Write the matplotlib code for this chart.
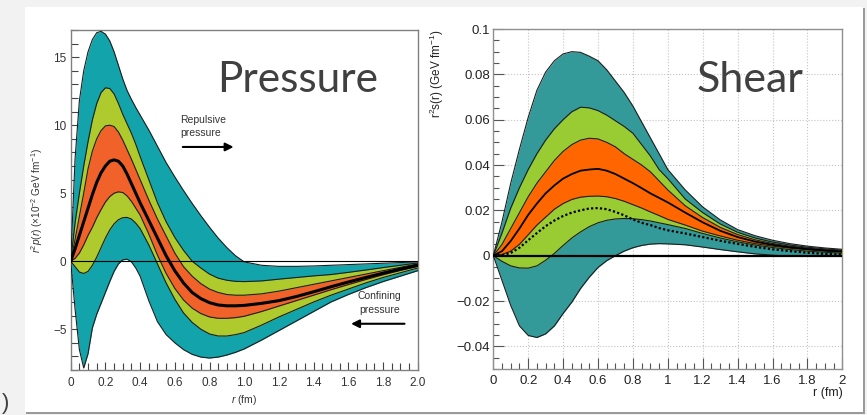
import matplotlib.pyplot as plt
from matplotlib.patches import Rectangle
from matplotlib.ticker import MultipleLocator, FixedLocator

plt.rcParams['font.family'] = ['Liberation Sans', 'DejaVu Sans']
plt.rcParams['mathtext.fontset'] = 'custom'
plt.rcParams['mathtext.rm'] = 'Liberation Sans'
plt.rcParams['mathtext.it'] = 'Liberation Sans:italic'

# ---- pressure panel: r^2 p(r) in units of 1e-2 GeV/fm ----
r_p = [0, .025, .05, .075, .1, .125, .15, .175, .2, .225, .25, .275, .3, .325, .35, .375, .4,
       .45, .5, .55, .6, .65, .7, .75, .8, .85, .9, .95, 1.0,
       1.1, 1.2, 1.3, 1.4, 1.5, 1.6, 1.7, 1.8, 1.9, 2.0]
p_teal_hi = [0, 7.5, 11.8, 14.0, 15.4, 16.3, 16.8, 16.9, 16.7, 16.2, 15.4, 14.4, 13.4, 12.55, 11.9, 11.3, 10.75,
             9.65, 8.45, 7.25, 6.2, 5.2, 4.25, 3.35, 2.5, 1.7, 1.0, 0.4, -0.05,
             -0.3, -0.38, -0.38, -0.35, -0.3, -0.25, -0.2, -0.15, -0.1, -0.05]
p_green_hi = [0, 2.8, 5.0, 7.0, 8.8, 10.4, 11.6, 12.4, 12.75, 12.7, 12.3, 11.6, 10.8, 10.1, 9.4, 8.6, 7.7,
              6.0, 4.3, 2.9, 1.75, 0.8, 0.0, -0.5, -0.95, -1.25, -1.4, -1.48, -1.5,
              -1.45, -1.32, -1.2, -1.08, -0.98, -0.82, -0.65, -0.47, -0.3, -0.13]
p_orange_hi = [0, 1.6, 3.3, 5.0, 6.8, 8.1, 9.0, 9.6, 9.95, 10.0, 9.9, 9.5, 8.9, 8.2, 7.5, 6.75, 6.0,
               4.5, 3.1, 1.85, 0.6, -0.4, -1.1, -1.65, -2.05, -2.3, -2.45, -2.5, -2.5,
               -2.4, -2.2, -1.95, -1.7, -1.45, -1.2, -0.95, -0.7, -0.45, -0.2]
p_central = [0, 0.9, 1.9, 2.9, 3.9, 4.9, 5.8, 6.5, 7.0, 7.35, 7.45, 7.35, 7.0, 6.4, 5.7, 5.0, 4.3,
             3.0, 1.7, 0.4, -0.7, -1.6, -2.3, -2.75, -3.05, -3.22, -3.28, -3.28, -3.25,
             -3.1, -2.9, -2.6, -2.25, -1.88, -1.53, -1.2, -0.88, -0.58, -0.3]
p_orange_lo = [0, 0.2, 0.6, 1.2, 1.9, 2.5, 3.2, 3.8, 4.35, 4.75, 5.0, 5.1, 5.05, 4.8, 4.4, 3.9, 3.4,
               2.0, 0.45, -0.9, -2.0, -2.85, -3.45, -3.85, -4.1, -4.2, -4.2, -4.15, -4.05,
               -3.7, -3.3, -2.9, -2.5, -2.1, -1.72, -1.35, -1.0, -0.68, -0.38]
p_green_lo = [0, -0.4, -0.8, -0.9, -0.75, -0.3, 0.3, 1.0, 1.7, 2.3, 2.75, 3.05, 3.2, 3.22, 3.1, 2.8, 2.4,
              1.2, -0.2, -1.6, -2.8, -3.8, -4.5, -5.0, -5.35, -5.5, -5.5, -5.4, -5.25,
              -4.7, -4.1, -3.55, -3.0, -2.5, -2.05, -1.6, -1.2, -0.85, -0.5]
p_teal_lo = [0, -3.5, -6.5, -7.85, -6.8, -4.9, -3.9, -3.1, -2.3, -1.5, -0.75, -0.2, 0.1, 0.15, -0.05, -0.5, -1.1,
             -2.9, -4.45, -5.4, -6.0, -6.5, -6.85, -7.05, -7.12, -7.05, -6.9, -6.7, -6.45,
             -5.8, -5.1, -4.4, -3.7, -3.0, -2.45, -1.95, -1.5, -1.1, -0.7]

p_xticks = [0, 0.2, 0.4, 0.6, 0.8, 1.0, 1.2, 1.4, 1.6, 1.8, 2.0]
p_xticklabels = ['0', '0.2', '0.4', '0.6', '0.8', '1.0', '1.2', '1.4', '1.6', '1.8', '2.0']
p_yticks = [-5, 0, 5, 10, 15]
p_yticklabels = ['\u22125', '0', '5', '10', '15']

# ---- shear panel: r^2 s(r) in GeV/fm ----
r_s = [0, .05, .1, .15, .2, .25, .3, .35, .4, .45, .5, .55, .6, .65, .7, .75, .8, .85, .9, .95, 1.0,
       1.1, 1.2, 1.3, 1.4, 1.5, 1.6, 1.7, 1.8, 1.9, 2.0]
s_teal_hi = [0, 0.015, 0.032, 0.047, 0.061, 0.073, 0.081, 0.086, 0.089, 0.090,
             0.0897, 0.088, 0.086, 0.082, 0.077, 0.072, 0.066, 0.059, 0.052, 0.045, 0.038,
             0.029, 0.0215, 0.0158, 0.0115, 0.0088, 0.0068, 0.0053, 0.0042, 0.0034, 0.0028]
s_green_hi = [0, 0.010, 0.021, 0.030, 0.038, 0.045, 0.051, 0.056, 0.060, 0.0635,
              0.0655, 0.0652, 0.064, 0.062, 0.0595, 0.057, 0.054, 0.049, 0.044, 0.038, 0.034,
              0.025, 0.019, 0.014, 0.0103, 0.0078, 0.006, 0.0047, 0.0037, 0.003, 0.0024]
s_orange_hi = [0, 0.005, 0.012, 0.019, 0.026, 0.032, 0.037, 0.042, 0.046, 0.049,
               0.051, 0.0518, 0.0515, 0.050, 0.048, 0.045, 0.0425, 0.040, 0.037, 0.033, 0.029,
               0.022, 0.0168, 0.0125, 0.0093, 0.007, 0.0054, 0.0042, 0.0033, 0.0026, 0.0021]
s_central = [0, 0.002, 0.0065, 0.012, 0.018, 0.023, 0.0275, 0.031, 0.034, 0.036,
             0.0375, 0.038, 0.0383, 0.0375, 0.036, 0.034, 0.032, 0.0298, 0.0275, 0.0255, 0.0235,
             0.019, 0.0147, 0.011, 0.0082, 0.0062, 0.0048, 0.0037, 0.0029, 0.0023, 0.0018]
s_orange_lo = [0, 0.0005, 0.002, 0.005, 0.0092, 0.0135, 0.017, 0.0205, 0.023, 0.0248,
               0.0258, 0.0262, 0.0263, 0.026, 0.0252, 0.024, 0.0225, 0.021, 0.0193, 0.0177, 0.016,
               0.0135, 0.0108, 0.0087, 0.0068, 0.0053, 0.0042, 0.0033, 0.0026, 0.002, 0.0016]
s_dotted = [0, 0.0002, 0.0012, 0.0035, 0.0068, 0.010, 0.013, 0.0155, 0.0175, 0.019,
            0.020, 0.0208, 0.021, 0.0205, 0.0193, 0.0178, 0.016, 0.0145, 0.0135, 0.0122, 0.0112,
            0.0098, 0.0082, 0.0066, 0.0052, 0.0039, 0.0028, 0.002, 0.0013, 0.0008, 0.0005]
s_green_lo = [0, -0.0025, -0.0045, -0.0054, -0.0055, -0.0045, -0.002, 0.001, 0.0045, 0.0078,
              0.0105, 0.0128, 0.0145, 0.0156, 0.0162, 0.0164, 0.0163, 0.0159, 0.0153, 0.0145, 0.0137,
              0.012, 0.0098, 0.0078, 0.0061, 0.0047, 0.0036, 0.0027, 0.002, 0.0015, 0.0011]
s_teal_lo = [0, -0.011, -0.022, -0.031, -0.0352, -0.0361, -0.0345, -0.031, -0.0255, -0.0205,
             -0.0145, -0.0095, -0.0052, -0.0022, 0.0, 0.002, 0.0035, 0.0045, 0.0051, 0.0053, 0.0052,
             0.0048, 0.0038, 0.0027, 0.0017, 0.0008, 0.0002, -0.0002, -0.0003, -0.0003, -0.0002]

s_xticks = [0, 0.2, 0.4, 0.6, 0.8, 1.0, 1.2, 1.4, 1.6, 1.8, 2.0]
s_xticklabels = ['0', '0.2', '0.4', '0.6', '0.8', '1', '1.2', '1.4', '1.6', '1.8', '2']
s_yticks = [-0.04, -0.02, 0, 0.02, 0.04, 0.06, 0.08, 0.1]
s_yticklabels = ['\u22120.04', '\u22120.02', '0', '0.02', '0.04', '0.06', '0.08', '0.1']

W, H = 867, 415
fig = plt.figure(figsize=(W / 100, H / 100), dpi=100)
fig.patch.set_facecolor('#f2f2f2')

# white slide panel with a soft edge
fig.add_artist(Rectangle((26 / W, 1 - 414 / H), 839 / W, 406 / H, transform=fig.transFigure,
                         facecolor='#9a9a9a', edgecolor='none', zorder=0))
fig.add_artist(Rectangle((25 / W, 1 - 412 / H), 838 / W, 405 / H, transform=fig.transFigure,
                         facecolor='white', edgecolor='none', zorder=0))


def draw_bands(ax, r, teal_hi, teal_lo, green_hi, green_lo, orange_hi, orange_lo, cols, lw):
    ax.fill_between(r, teal_lo, teal_hi, color=cols[0], lw=0, zorder=2)
    ax.fill_between(r, green_lo, green_hi, color=cols[1], lw=0, zorder=3)
    ax.fill_between(r, orange_lo, orange_hi, color=cols[2], lw=0, zorder=4)
    for c in [teal_hi, teal_lo, green_hi, green_lo, orange_hi, orange_lo]:
        ax.plot(r, c, color='#1e1e1e', lw=lw, zorder=5)


# ---------------- Pressure ----------------
axp = fig.add_axes([70.7 / W, 1 - 370 / H, 347 / W, 340 / H])
draw_bands(axp, r_p, p_teal_hi, p_teal_lo, p_green_hi, p_green_lo, p_orange_hi, p_orange_lo,
           ['#13a3ab', '#afca2c', '#f0622a'], 0.8)
axp.plot(r_p, p_central, color='black', lw=2.2, zorder=6)
axp.axhline(0, color='black', lw=0.8, zorder=7)
axp.set_xlim(0, 2.0)
axp.set_ylim(-8, 17)
axp.xaxis.set_major_locator(FixedLocator(p_xticks))
axp.set_xticklabels(p_xticklabels)
axp.yaxis.set_major_locator(FixedLocator(p_yticks))
axp.set_yticklabels(p_yticklabels)
axp.xaxis.set_minor_locator(MultipleLocator(0.05))
axp.yaxis.set_minor_locator(MultipleLocator(1))
axp.tick_params(which='both', direction='in', top=False, right=False, colors='#444444',
                labelsize=8.5, labelcolor='#333333')
axp.tick_params(which='major', length=6, width=0.8)
axp.tick_params(which='minor', length=5, width=0.8)
axp.tick_params(axis='x', pad=5)
axp.tick_params(axis='y', pad=3)
for s in axp.spines.values():
    s.set_color('#808080')
    s.set_linewidth(1.0)
axp.set_xlabel(r'$r$ (fm)', fontsize=7.5, color='#333333')
axp.xaxis.set_label_coords(0.5, -0.068)
axp.set_ylabel('$r^2p(r)$ (\u00d710$^{-2}$ GeV fm$^{-1}$)', fontsize=7.2, color='#333333')
axp.yaxis.set_label_coords(-0.074, 0.5)

axp.text(0.63, 10.4, 'Repulsive', fontsize=7.5, color='#333333', va='center', zorder=8)
axp.text(0.63, 9.4, 'pressure', fontsize=7.5, color='#333333', va='center', zorder=8)
axp.annotate('', xy=(0.955, 8.4), xytext=(0.63, 8.4),
             arrowprops=dict(arrowstyle='-|>', color='black', lw=1.5, mutation_scale=12), zorder=8)
axp.text(1.78, -2.56, 'Confining', fontsize=7.5, color='#333333', ha='center', va='center', zorder=8)
axp.text(1.78, -3.58, 'pressure', fontsize=7.5, color='#333333', ha='center', va='center', zorder=8)
axp.annotate('', xy=(1.6, -4.6), xytext=(1.94, -4.6),
             arrowprops=dict(arrowstyle='-|>', color='black', lw=1.5, mutation_scale=12), zorder=8)

# ---------------- Shear ----------------
axs = fig.add_axes([493.3 / W, 1 - 369 / H, 349 / W, 340 / H])
axs.grid(True, which='major', ls=':', color='#c4c4c4', lw=0.8, zorder=0)
axs.set_axisbelow(True)
draw_bands(axs, r_s, s_teal_hi, s_teal_lo, s_green_hi, s_green_lo, s_orange_hi, s_orange_lo,
           ['#339999', '#99cc33', '#ff6600'], 0.8)
axs.plot(r_s, s_central, color='black', lw=1.3, zorder=6)
axs.plot(r_s, s_dotted, color='black', lw=1.6, ls=(0, (1, 1)), zorder=6)
axs.axhline(0, color='black', lw=1.6, zorder=7)
axs.set_xlim(0, 2.0)
axs.set_ylim(-0.05, 0.1)
axs.xaxis.set_major_locator(FixedLocator(s_xticks))
axs.set_xticklabels(s_xticklabels)
axs.yaxis.set_major_locator(FixedLocator(s_yticks))
axs.set_yticklabels(s_yticklabels)
axs.xaxis.set_minor_locator(MultipleLocator(0.05))
axs.yaxis.set_minor_locator(MultipleLocator(0.005))
axs.tick_params(which='both', direction='in', top=False, right=False, colors='#555555',
                labelsize=9.5, labelcolor='#222222')
axs.tick_params(which='major', length=8, width=0.8)
axs.tick_params(which='minor', length=4, width=0.8)
axs.tick_params(axis='x', pad=4)
axs.tick_params(axis='y', pad=2.5)
for s in axs.spines.values():
    s.set_color('#909090')
    s.set_linewidth(1.0)
axs.set_xlabel('r (fm)', fontsize=9, color='#222222', loc='right')
axs.xaxis.set_label_coords(1.0, -0.053)
axs.set_ylabel(r'r$^2$s(r) (GeV fm$^{-1}$)', fontsize=8.5, color='#222222', loc='top')
axs.yaxis.set_label_coords(-0.135, 1.0)

# slide titles
fig.text(217 / W, 1 - 92 / H, 'Pressure', fontsize=30.5, color='#404040', family='Lato', va='baseline')
fig.text(697 / W, 1 - 92 / H, 'Shear', fontsize=31, color='#404040', family='Lato', va='baseline')
fig.text(2 / W, 1 - 414 / H, ')', fontsize=16, color='#404040', va='bottom')

fig.savefig('out.png', dpi=100, facecolor=fig.get_facecolor())
